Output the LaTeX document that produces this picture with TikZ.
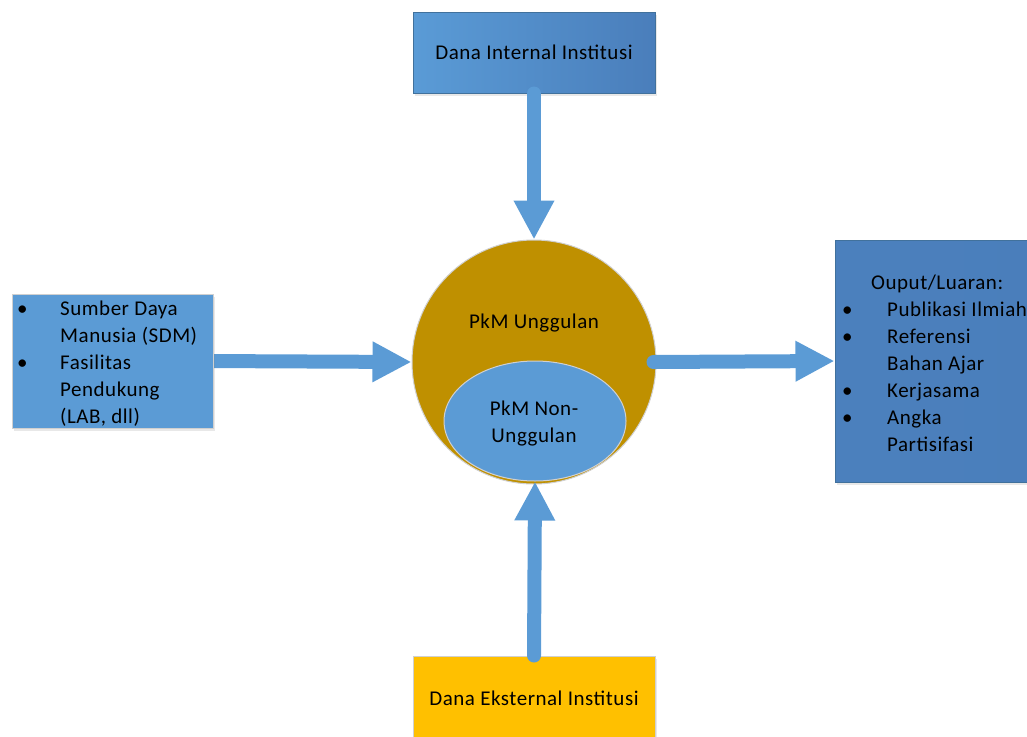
\documentclass[tikz,border=0pt]{standalone}
\usepackage{fontspec}
\setmainfont{Carlito}[LetterSpace=2.5]
\usetikzlibrary{arrows.meta,shadows,shapes.geometric}

\definecolor{flowblue}{HTML}{5B9BD5}
\definecolor{boxblue}{HTML}{5B9BD5}
\definecolor{deepblue}{HTML}{4A7EBB}
\definecolor{lightblue}{HTML}{5A9BD6}
\definecolor{edgeblue}{HTML}{41719C}
\definecolor{gold}{HTML}{BF9000}
\definecolor{amber}{HTML}{FFC000}
\definecolor{rimgray}{HTML}{D0D0D0}

\newcommand{\bodyfont}{\fontsize{21}{27}\selectfont}

\tikzset{
  panel/.style={rectangle, inner sep=0pt, line width=1pt,
    drop shadow={opacity=0.18, shadow xshift=2pt, shadow yshift=-3pt}},
  label/.style={inner sep=0pt, font=\bodyfont, text=black},
  flow/.style={draw=flowblue, line width=14pt, line cap=round,
    -{Triangle[width=38pt,length=39pt]}},
}

\begin{document}
\begin{tikzpicture}[x=1pt,y=-1pt]
\useasboundingbox (0,0) rectangle (1027,736);

% centre: PkM Unggulan circle with the non-unggulan ellipse inside
\node[circle, minimum size=244pt, inner sep=0pt, fill=gold, draw=rimgray,
      line width=1pt] (core) at (534,362) {};
\node[ellipse, minimum width=182pt, minimum height=120pt, inner sep=0pt,
      fill=boxblue, draw=rimgray, line width=1pt] (inner) at (535,421) {};
\node[label] (coretxt) at (534,323) {PkM Unggulan};
\node[label, align=center] (innertxt) at (534,424) {PkM Non-\\Unggulan};

% left input arrow, tucked under the resource box
\coordinate (leftstart) at (205,361);
\draw[flow] (leftstart) -- (core.west);

% resources box
\node[panel, fill=boxblue, draw=rimgray, minimum width=201pt,
      minimum height=134pt] (res) at (112.5,361) {};
\node[label, anchor=north west] (restxt) at (17,296.5) {%
  \bodyfont\begin{tabular}{@{}p{43pt}@{}l@{}}
  \textbullet & Sumber Daya\\
              & Manusia (SDM)\\
  \textbullet & Fasilitas\\
              & Pendukung\\
              & (LAB, dll)
  \end{tabular}};

% internal funding box
\node[panel, left color=lightblue, right color=deepblue, draw=edgeblue,
      minimum width=242pt, minimum height=81pt] (internal) at (534,52.5)
      {\bodyfont Dana Internal Institusi};

% external funding box
\node[panel, fill=amber, draw=rimgray, minimum width=242pt,
      minimum height=84pt] (external) at (534,698)
      {\bodyfont Dana Eksternal Institusi};

% output box
\node[panel, left color=deepblue!92!lightblue, right color=deepblue,
      draw=edgeblue, minimum width=210pt, minimum height=242pt]
      (output) at (940,361) {};
\node[label, anchor=north west] (outtxt) at (842,270.5) {%
  \bodyfont\begin{tabular}{@{}p{45pt}@{}l@{}}
  \multicolumn{2}{@{}l}{\hspace{29pt}Ouput/Luaran:}\\
  \textbullet & Publikasi Ilmiah\\
  \textbullet & Referensi\\
              & Bahan Ajar\\
  \textbullet & Kerjasama\\
  \textbullet & Angka\\
              & Partisifasi
  \end{tabular}};

% connectors
\draw[flow] (internal.south) -- (core.north);
\draw[flow] (external.north) -- (inner.south);
\draw[flow] ([xshift=-3pt]core.east) -- (output.west);
\end{tikzpicture}
\end{document}
